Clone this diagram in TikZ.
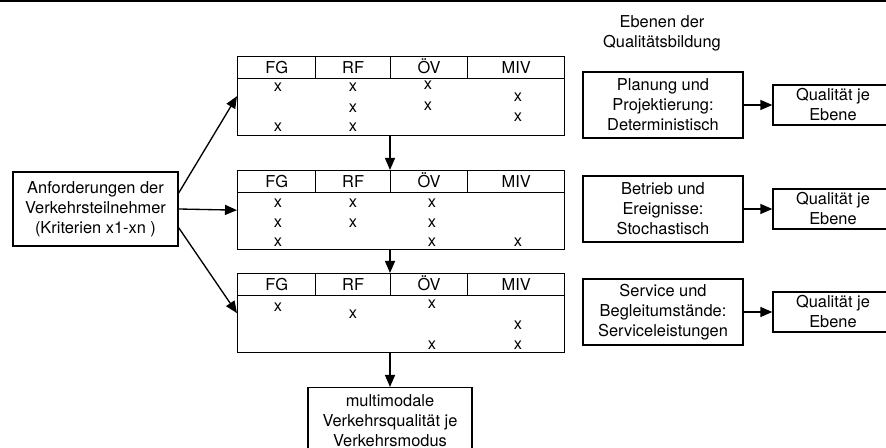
\documentclass[tikz,border=0pt]{standalone}
\usepackage{fontspec}
\setmainfont{TeX Gyre Heros}
\usetikzlibrary{arrows.meta}
\def\schrift{\fontsize{12.3pt}{15pt}\selectfont}
\tikzset{
	box/.style={draw, line width=1pt, align=center, inner sep=0pt, font=\schrift},
	zelle/.style={draw, line width=1pt, anchor=north west, minimum height=16.5pt, inner sep=0pt, text height=9pt, text depth=0pt, font=\schrift},
	kreuz/.style={inner sep=0pt, font=\schrift},
	pfeil/.style={line width=1pt, -{Triangle[length=9pt,width=7.5pt]}}
}
% #1 name, #2 oberkante (px)
\newcommand{\modustabelle}[2]{
	\node[box, anchor=north west, minimum width=245.25pt, minimum height=59.25pt] (#1) at (237, #2) {};
	\node[zelle, minimum width=58.5pt] (#1fg) at (237, #2) {FG};
	\node[zelle, minimum width=56.25pt] (#1rf) at (315, #2) {RF};
	\node[zelle, minimum width=57.75pt] (#1oev) at (390, #2) {ÖV};
	\node[zelle, minimum width=72.75pt] (#1miv) at (467, #2) {MIV};
}

\begin{document}
\begin{tikzpicture}[x=0.75pt, y=-0.75pt]
		%%%%% START %%%%%
		\useasboundingbox (0, 0) rectangle (886, 448);
		\fill[black] (0, 0) rectangle (886, 2.5);
		
		\node[box, minimum width=123.75pt, minimum height=55.5pt] (anf) at (95.5, 209) {Anforderungen der\\Verkehrsteilnehmer\\(Kriterien x1-xn )};
		
		\modustabelle{tabA}{56}
		\modustabelle{tabB}{170}
		\modustabelle{tabC}{273}
		
		\foreach \cx/\cy [count=\i] in {278/87, 278/127, 353/87, 353/108, 353/127, 428/85, 428/106, 518/97, 518/117}
			\node[kreuz] (tabAx\i) at (\cx, \cy) {x};
		\foreach \cx/\cy [count=\i] in {278/203, 278/223, 278/242, 353/203, 353/223, 432/203, 432/223, 432/242, 518/242}
			\node[kreuz] (tabBx\i) at (\cx, \cy) {x};
		\foreach \cx/\cy [count=\i] in {278/307, 353/314, 432/304, 432/345, 518/325, 518/345}
			\node[kreuz] (tabCx\i) at (\cx, \cy) {x};
		
		\node[box, anchor=north, minimum width=123pt, inner ysep=5pt] (erg) at (390, 387) {multimodale\\Verkehrsqualität je\\Verkehrsmodus};
		
		\draw[pfeil] ([yshift=12pt]anf.east) -- (tabA.west);
		\draw[pfeil] (anf.east) -- (tabB.west);
		\draw[pfeil] ([yshift=-14pt]anf.east) -- (tabC.west);
		\draw[pfeil] (tabA.south -| tabAoev.west) -- (tabB.north -| tabAoev.west);
		\draw[pfeil] (tabB.south -| tabBoev.west) -- (tabC.north -| tabBoev.west);
		\draw[pfeil] (tabC.south -| erg.north) -- (erg.north);
		
		\node[align=center, font=\schrift] (titel) at (662, 33) {Ebenen der\\Qualitätsbildung};
		
		\node[box, minimum width=120pt, minimum height=49.5pt] (planung) at (663, 105) {Planung und\\Projektierung:\\Deterministisch};
		\node[box, minimum width=120pt, minimum height=49.5pt] (betrieb) at (663, 209) {Betrieb und\\Ereignisse:\\Stochastisch};
		\node[box, minimum width=120pt, minimum height=49.5pt] (service) at (663, 312) {Service und\\Begleitumstände:\\Serviceleistungen};
		
		\node[box, minimum width=90pt, minimum height=30pt] (qualA) at (833, 105) {Qualität je\\Ebene};
		\node[box, minimum width=90pt, minimum height=30pt] (qualB) at (833, 209) {Qualität je\\Ebene};
		\node[box, minimum width=90pt, minimum height=30pt] (qualC) at (833, 312) {Qualität je\\Ebene};
		
		\draw[pfeil] (planung) -- (qualA);
		\draw[pfeil] (betrieb) -- (qualB);
		\draw[pfeil] (service) -- (qualC);
		%%%%% END %%%%%
\end{tikzpicture}
\end{document}
